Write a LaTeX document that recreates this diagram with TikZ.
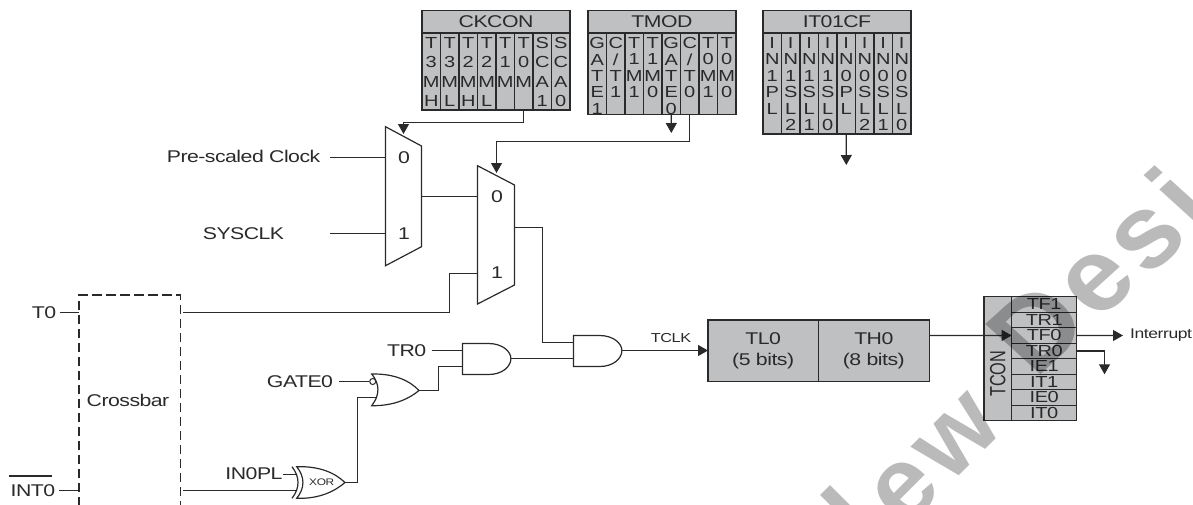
\documentclass[tikz,border=0pt]{standalone}
\usepackage{fontspec}
\setmainfont[LetterSpace=-3,FakeStretch=1.25]{Liberation Sans}
\newfontfamily\plainfam{Liberation Sans}
\newfontfamily\wmfont[LetterSpace=6]{Liberation Sans Bold}
\usetikzlibrary{arrows.meta,calc}
\definecolor{ink}{HTML}{2A2A2A}
\definecolor{regfill}{HTML}{BFC0C2}
\tikzset{
  wire/.style={draw=ink,line width=1.2pt},
  arr/.style={wire,-{Triangle[length=10pt,width=11pt]}},
  gatebody/.style={draw=ink,line width=1.2pt,fill=white},
  regbox/.style={draw=ink,line width=1.2pt,fill=regfill,inner sep=0pt,outer sep=0pt,text=ink},
  lab/.style={inner sep=0pt,text=ink,font=\fontsize{17}{18}\selectfont},
  muxnum/.style={inner sep=0pt,text=ink,font=\fontsize{17}{18}\selectfont},
  tcell/.style={regbox,minimum width=65pt,minimum height=15.5pt,anchor=north west,font=\fontsize{16}{16}\selectfont},
  wmark/.style={inner sep=0pt,text=black,opacity=.27,text opacity=.27,rotate=45,font=\wmfont\fontsize{103}{103}\selectfont},
}
% stacked-letter register cell: name, x, ytop, height, line skip, letters
\newcommand{\regcell}[6]{%
  \node[regbox,anchor=north west] (#1) at (#2,#3) {\parbox[c][#4pt][t]{18.5pt}{\centering\fontsize{16}{#5}\selectfont\vspace*{4.5pt}#6}};}
\newcommand{\reghead}[5]{%
  \node[regbox,anchor=north west,minimum width=148pt,minimum height=#4pt,font=\fontsize{17}{18}\selectfont] (#1) at (#2,#3) {#5};}
% AND gate: name, x, ytop
\newcommand{\andgate}[3]{%
  \coordinate (#1a) at (#2,#3+7);
  \coordinate (#1b) at (#2,#3+23);
  \coordinate (#1o) at (#2+48.4,#3+15);
  \draw[gatebody] (#2,#3) -- (#2+26,#3) .. controls (#2+40,#3) and (#2+48.4,#3+8) .. (#2+48.4,#3+15)
     .. controls (#2+48.4,#3+23) and (#2+40,#3+31) .. (#2+26,#3+31) -- (#2,#3+31) -- cycle;}
\begin{document}
\begin{tikzpicture}[x=1pt,y=-1pt]
\useasboundingbox (0,0) rectangle (1193,504);
\clip (0,0) rectangle (1193,504);

% ---------- CKCON
\reghead{ckh}{422}{10.5}{22.5}{CKCON}
\regcell{ck1}{422}{33}{77}{19.3}{T\\3\\M\\H}
\regcell{ck2}{440.5}{33}{77}{19.3}{T\\3\\M\\L}
\regcell{ck3}{459}{33}{77}{19.3}{T\\2\\M\\H}
\regcell{ck4}{477.5}{33}{77}{19.3}{T\\2\\M\\L}
\regcell{ck5}{496}{33}{77}{19.3}{T\\1\\M}
\regcell{ck6}{514.5}{33}{77}{19.3}{T\\0\\M}
\regcell{ck7}{533}{33}{77}{19.3}{S\\C\\A\\1}
\regcell{ck8}{551.5}{33}{77}{19.3}{S\\C\\A\\0}
% ---------- TMOD
\reghead{tmh}{588}{10.5}{22.5}{TMOD}
\regcell{tm1}{588}{33}{81.5}{16.4}{G\\A\\T\\E\\1}
\regcell{tm2}{606.5}{33}{81.5}{16.4}{C\\/\\T\\1}
\regcell{tm3}{625}{33}{81.5}{16.4}{T\\1\\M\\1}
\regcell{tm4}{643.5}{33}{81.5}{16.4}{T\\1\\M\\0}
\regcell{tm5}{662}{33}{81.5}{16.4}{G\\A\\T\\E\\0}
\regcell{tm6}{680.5}{33}{81.5}{16.4}{C\\/\\T\\0}
\regcell{tm7}{699}{33}{81.5}{16.4}{T\\0\\M\\1}
\regcell{tm8}{717.5}{33}{81.5}{16.4}{T\\0\\M\\0}
% ---------- IT01CF
\reghead{ith}{763}{10.5}{22.5}{IT01CF}
\regcell{it1}{763}{33}{101}{16.4}{I\\N\\1\\P\\L}
\regcell{it2}{781.5}{33}{101}{16.4}{I\\N\\1\\S\\L\\2}
\regcell{it3}{800}{33}{101}{16.4}{I\\N\\1\\S\\L\\1}
\regcell{it4}{818.5}{33}{101}{16.4}{I\\N\\1\\S\\L\\0}
\regcell{it5}{837}{33}{101}{16.4}{I\\N\\0\\P\\L}
\regcell{it6}{855.5}{33}{101}{16.4}{I\\N\\0\\S\\L\\2}
\regcell{it7}{874}{33}{101}{16.4}{I\\N\\0\\S\\L\\1}
\regcell{it8}{892.5}{33}{101}{16.4}{I\\N\\0\\S\\L\\0}
\coordinate (it5end) at (846.3,165);
\draw[arr] (it5.south) -- (it5end);
\coordinate (tm5end) at (671.3,133);
\draw[arr] (tm5.south) -- (tm5end);

% ---------- Multiplexers
\draw[gatebody] (385.5,126.7) -- (421.5,146) -- (421.5,246.7) -- (385.5,265.7) -- cycle;
\draw[gatebody] (477.5,165.7) -- (514.5,185) -- (514.5,285) -- (477.5,304) -- cycle;
\node[muxnum] (m1z) at (404,157.5) {0};
\node[muxnum] (m1o) at (404,234) {1};
\node[muxnum] (m2z) at (497,196.5) {0};
\node[muxnum] (m2o) at (497,272.7) {1};
\coordinate (m1a) at (385.5,157.5);
\coordinate (m1b) at (385.5,233.5);
\coordinate (m1s) at (403.5,134);
\coordinate (m1y) at (421.5,196.5);
\coordinate (m2a) at (477.5,196.5);
\coordinate (m2b) at (477.5,273.5);
\coordinate (m2s) at (496.5,173);
\coordinate (m2y) at (514.5,227.5);
\draw[arr] (ck6.south) |- (403.5,122.5) -- (m1s);
\draw[arr] (tm6.south) |- (496.5,141.5) -- (m2s);
\draw[wire] (m1y) -- (m2a);

% ---------- Labels on the left
\node[lab,anchor=east] (pre) at (320.5,156.5) {Pre-scaled Clock};
\node[lab] (sys) at (243.5,233.3) {SYSCLK};
\coordinate (preS) at (330,157.5);
\coordinate (sysS) at (330,233.5);
\draw[wire] (preS) -- (m1a);
\draw[wire] (sysS) -- (m1b);

% ---------- Crossbar
\coordinate (cbL) at (79,506);
\coordinate (cbTL) at (79,295);
\coordinate (cbTR) at (180.3,295);
\coordinate (cbR) at (180.3,506);
\draw[draw=ink,line width=1.5pt,dash pattern=on 9.5pt off 4.5pt] (cbL) -- (cbTL) -- (cbTR) -- (cbR);
\node[lab] (cb) at (128,400) {Crossbar};
\node[lab] (t0) at (44,313) {T0};
\node[lab,anchor=base] (int0) at (33,496.5) {\vbox{\offinterlineskip\hbox to 0pt{\kern-2pt\vrule width 43pt height 1.2pt\hss}\kern 8pt\hbox{INT0}}};
\coordinate (t0S) at (60,312.5);
\coordinate (t0E) at (79,312.5);
\coordinate (i0S) at (59.3,490.5);
\coordinate (i0E) at (79,490.5);
\draw[wire] (t0S) -- (t0E);
\draw[wire] (i0S) -- (i0E);
\coordinate (cbO) at (183,312.5);
\draw[wire] (cbO) -- (449.5,312.5) |- (m2b);

% ---------- AND gates
\andgate{gA}{462.5}{343.5}
\andgate{gB}{573.5}{335.5}
\draw[wire] (m2y) -- (542.5,227.5) |- (gBa);
\draw[wire] (gAo) -- (gBb);
\node[lab] (tr0) at (406.7,350.5) {TR0};
\coordinate (trS) at (431.7,350.5);
\draw[wire] (trS) -- (gAa);

% ---------- OR gate
\draw[gatebody] (371.7,374) .. controls (395,373.5) and (410,381) .. (419,390.5)
   .. controls (410,398) and (395,406) .. (371.7,405.7)
   .. controls (380,395) and (380,384) .. (371.7,374) -- cycle;
\coordinate (orO) at (419,390.5);
\coordinate (orB) at (377.3,397.5);
\node[circle,draw=ink,line width=1pt,fill=white,inner sep=0pt,minimum size=6pt] (orN) at (372.7,381.5) {};
\node[lab] (gate) at (300,381.3) {GATE0};
\coordinate (gS) at (339,381.5);
\draw[wire] (gS) -- (orN.west);
\draw[wire] (orO) -- (438.5,390.5) |- (gAb);

% ---------- XOR gate
\draw[gatebody] (296.7,466.7) .. controls (320,466) and (335,473) .. (345,482.5)
   .. controls (335,491) and (320,499) .. (296.7,498.3)
   .. controls (305,488) and (305,477) .. (296.7,466.7) -- cycle;
\draw[draw=ink,line width=1.2pt] (292,466.7) .. controls (300,477) and (300,488) .. (292,498.3);
\node[inner sep=0pt,text=ink,font=\fontsize{9.5}{10}\selectfont] (xort) at (321.7,482.5) {XOR};
\coordinate (xO) at (345,482.5);
\coordinate (xA) at (295.5,474.5);
\coordinate (xB) at (297,490.5);
\node[lab] (in0) at (254,474) {IN0PL};
\coordinate (inS) at (282.7,474.5);
\draw[wire] (inS) -- (xA);
\coordinate (cbX) at (183,490.5);
\draw[wire] (cbX) -- (xB);
\draw[wire] (xO) -- (357.5,482.5) |- (orB);

% ---------- Timer registers
\node[regbox,anchor=north west,minimum width=110.3pt,minimum height=61.7pt,align=center,font=\fontsize{17}{20.5}\selectfont] (tl) at (708,320) {TL0\\(5 bits)};
\node[regbox,anchor=north west,minimum width=111pt,minimum height=61.7pt,align=center,font=\fontsize{17}{20.5}\selectfont] (th) at (818.3,320) {TH0\\(8 bits)};
\draw[arr] (gBo) -- (tl.west |- gBo);
\node[inner sep=0pt,text=ink,font=\fontsize{13}{14}\selectfont] (tclk) at (671,338.3) {TCLK};

% ---------- TCON
\node[regbox,anchor=north west,minimum width=27.7pt,minimum height=124pt] (tcn) at (984,296.7) {\rotatebox{90}{\scalebox{.74}[1]{\plainfam\fontsize{22}{22}\selectfont TCON}\hspace*{30pt}}};
\node[tcell] (c1) at (1011.7,296.7) {TF1};
\node[tcell] (c2) at (1011.7,312.2) {TR1};
\node[tcell] (c3) at (1011.7,327.7) {TF0};
\node[tcell] (c4) at (1011.7,343.2) {TR0};
\node[tcell] (c5) at (1011.7,358.7) {IE1};
\node[tcell] (c6) at (1011.7,374.2) {IT1};
\node[tcell] (c7) at (1011.7,389.7) {IE0};
\node[tcell] (c8) at (1011.7,405.2) {IT0};
\draw[arr] (th.east |- 0,335.5) -- (c3.west);
\coordinate (intE) at (1123,335.5);
\draw[arr] (c3.east) -- (intE);
\node[lab,anchor=west,font=\fontsize{14}{14}\selectfont] (irq) at (1130,335.5) {Interrupt};
\coordinate (c4d) at (1104.5,374.3);
\draw[arr] (c4.east) -| (c4d);

% ---------- Watermark
\node[wmark,anchor=base east] (wmA) at (1006,429) {ew};
\begin{scope}[cm={1.1,0,0,1,(0,0)},transform shape]
\node[wmark,anchor=base west] (wmB) at (941,380) {Desi};
\end{scope}
\coordinate (wmS1) at (825,490);
\coordinate (wmS2) at (852,517);
\draw[black,opacity=.27,line width=14pt] (wmS1) -- (wmS2);
\end{tikzpicture}
\end{document}
